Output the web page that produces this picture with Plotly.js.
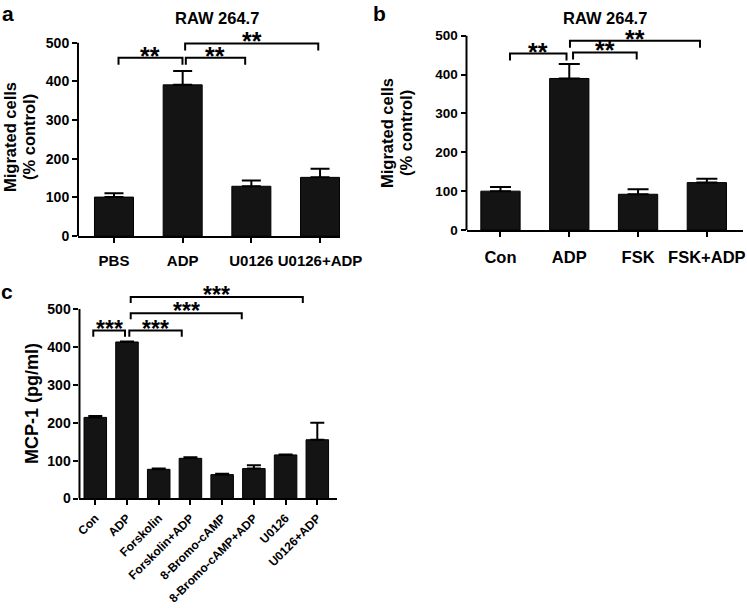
<!DOCTYPE html>
<html><head><meta charset="utf-8">
<script src="https://cdn.plot.ly/plotly-3.0.1.min.js"></script>
<style>html,body{margin:0;padding:0;background:#fff}#chart{width:747px;height:608px}</style>
</head><body><div id="chart"></div>
<script>
// ---------- data ----------
// Panel a
const catsA = ['PBS', 'ADP', 'U0126', 'U0126+ADP'];
const valsA = [101, 391, 129, 152];
const errA  = [10, 36, 15, 22];
// Panel b
const catsB = ['Con', 'ADP', 'FSK', 'FSK+ADP'];
const valsB = [100, 390, 92, 122];
const errB  = [11, 37, 13, 10];
// Panel c
const catsC = ['Con', 'ADP', 'Forskolin', 'Forskolin+ADP', '8-Bromo-cAMP', '8-Bromo-cAMP+ADP', 'U0126', 'U0126+ADP'];
const valsC = [214, 413, 77, 106, 63, 79, 115, 155];
const errC  = [4, 1, 2, 3, 2, 9, 1, 45];
const yTicks = [0, 100, 200, 300, 400, 500];
// significance brackets: [start, end (category positions), height (value), label]
const brA = [[0.066, 0.997, 461, '**'], [1.046, 1.91, 461, '**'], [1.036, 2.974, 498, '**']];
const brB = [[0.138, 0.96, 454, '**'], [1.055, 1.98, 457, '**'], [1.01, 2.9, 487, '**']];
const brC = [[-0.063, 0.937, 443, '***'], [1.073, 2.726, 443, '***'], [1.117, 4.618, 489, '***'], [1.117, 6.543, 532, '***']];

// ---------- styling ----------
const FONT = 'Arial, "Liberation Sans", Helvetica, sans-serif';
const W = 747, H = 608;
function bold(size) { return {family: FONT, size: size, color: '#000', weight: 'bold'}; }

const panels = [
  {cats: catsA, vals: valsA, err: errA, br: brA, xs: 'x', ys: 'y', xk: 'xaxis', yk: 'yaxis',
   xdom: [0.1044, 0.4552], xr: [-0.524, 3.291], ydom: [0.6115, 0.9553], yr: [0, 540],
   bw: 0.568, cap: 9.5, drop: 18, xfs: 15, yfs: 14, starFs: 25, angle: 0, standoff: 5},
  {cats: catsB, vals: valsB, err: errB, br: brB, xs: 'x2', ys: 'y2', xk: 'xaxis2', yk: 'yaxis2',
   xdom: [0.6245, 0.9946], xr: [-0.494, 3.525], ydom: [0.6217, 0.9604], yr: [0, 530],
   bw: 0.571, cap: 10.5, drop: 18, xfs: 16.5, yfs: 13.5, starFs: 25, angle: 0, standoff: 6},
  {cats: catsC, vals: valsC, err: errC, br: brC, xs: 'x3', ys: 'y3', xk: 'xaxis3', yk: 'yaxis3',
   xdom: [0.1064, 0.4511], xr: [-0.498, 7.62], ydom: [0.1801, 0.5385], yr: [0, 575],
   bw: 0.71, cap: 7, drop: 16, xfs: 12, yfs: 14, starFs: 23, angle: -45, standoff: 1}
];

const traces = [];
const shapes = [];
const annotations = [];
const layout = {
  width: W, height: H, margin: {l: 0, r: 0, t: 0, b: 0},
  paper_bgcolor: '#fff', plot_bgcolor: 'rgba(0,0,0,0)', showlegend: false,
  font: {family: FONT, color: '#000'}
};

panels.forEach(p => {
  const idx = p.cats.map((_, i) => i);
  traces.push({
    type: 'bar', x: idx, y: p.vals, xaxis: p.xs, yaxis: p.ys, width: p.bw,
    marker: {color: '#141414', line: {color: '#000', width: 1}},
    error_y: {type: 'data', array: p.err, arrayminus: p.err.map(() => 0), symmetric: false,
              color: '#000', thickness: 2, width: p.cap},
    hoverinfo: 'skip'
  });
  layout[p.xk] = {
    domain: p.xdom, range: p.xr, anchor: p.ys, showgrid: false, zeroline: false,
    showline: true, linecolor: '#000', linewidth: 2,
    tickmode: 'array', tickvals: idx, ticktext: p.cats,
    ticks: 'outside', ticklen: 5, tickwidth: 2, tickcolor: '#000',
    tickangle: p.angle, tickfont: bold(p.xfs), ticklabelstandoff: p.standoff, fixedrange: true
  };
  layout[p.yk] = {
    domain: p.ydom, range: p.yr, anchor: p.xs, showgrid: false, zeroline: false,
    showline: false, tickmode: 'array', tickvals: yTicks,
    ticks: 'outside', ticklen: 5, tickwidth: 2, tickcolor: '#000',
    tickfont: bold(p.yfs), fixedrange: true
  };
  // y axis line (0 - 500)
  shapes.push({type: 'line', xref: p.xs + ' domain', yref: p.ys, x0: 0, x1: 0, y0: 0, y1: 500,
               line: {color: '#000', width: 2}});
  // brackets
  p.br.forEach(b => {
    const [x0, x1, y, lab] = b;
    shapes.push({type: 'path', xref: p.xs, yref: p.ys,
      path: `M ${x0},${y - p.drop} L ${x0},${y} L ${x1},${y} L ${x1},${y - p.drop}`,
      line: {color: '#000', width: 2}});
    annotations.push({xref: p.xs, yref: p.ys, x: (x0 + x1) / 2, y: y, text: lab,
      showarrow: false, xanchor: 'center', yanchor: 'middle', yshift: 2, font: bold(p.starFs)});
  });
});

// titles, axis titles, panel letters
const txt = (x, y, text, size, extra) => Object.assign({
  xref: 'paper', yref: 'paper', x: x / W, y: 1 - y / H, text: text, showarrow: false,
  xanchor: 'center', yanchor: 'middle', font: bold(size)}, extra || {});
annotations.push(txt(217, 18, 'RAW 264.7', 16.5));
annotations.push(txt(605, 18, 'RAW 264.7', 16.5));
annotations.push(txt(10, 137, 'Migrated cells', 16.5, {textangle: -90}));
annotations.push(txt(29, 137, '(% control)', 16.5, {textangle: -90}));
annotations.push(txt(387, 133, 'Migrated cells', 16.5, {textangle: -90}));
annotations.push(txt(406, 133, '(% control)', 16.5, {textangle: -90}));
annotations.push(txt(32, 404, 'MCP-1 (pg/ml)', 18, {textangle: -90}));
annotations.push(txt(8, 14, 'a', 21));
annotations.push(txt(379, 13, 'b', 21));
annotations.push(txt(7, 291, 'c', 21));

layout.shapes = shapes;
layout.annotations = annotations;

Plotly.newPlot('chart', traces, layout, {staticPlot: true, displayModeBar: false});
</script>
</body></html>
